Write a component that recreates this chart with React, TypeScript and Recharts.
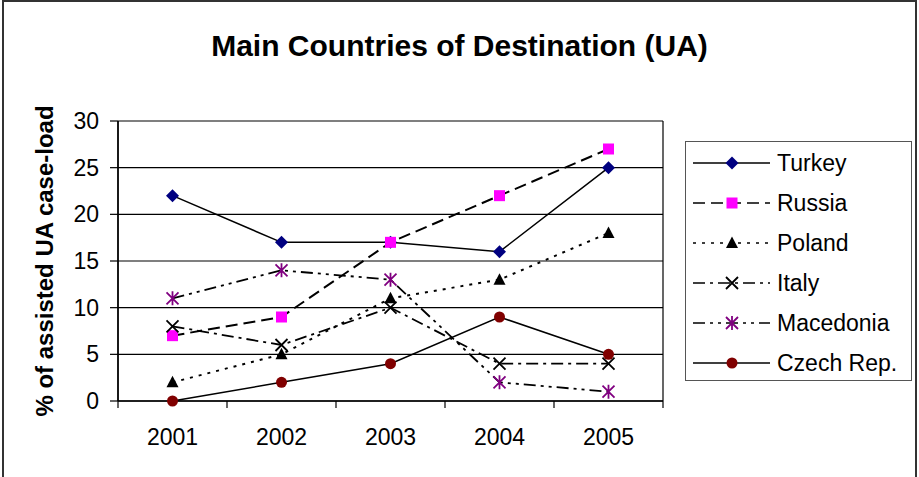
import React from "react";
import {
  LineChart,
  Line,
  XAxis,
  YAxis,
  CartesianGrid,
  Legend,
} from "recharts";

// values
const years = ["2001", "2002", "2003", "2004", "2005"];
const turkey = [22, 17, 17, 16, 25];
const russia = [7, 9, 17, 22, 27];
const poland = [2, 5, 11, 13, 18];
const italy = [8, 6, 10, 4, 4];
const macedonia = [11, 14, 13, 2, 1];
const czech = [0, 2, 4, 9, 5];
const yTicks = [0, 5, 10, 15, 20, 25, 30];

type Series = {
  name: string;
  values: number[];
  dash?: string;
  width: number;
  marker: string;
  color: string;
};

const series: Series[] = [
  { name: "Turkey", values: turkey, width: 1.5, marker: "diamond", color: "#000080" },
  { name: "Russia", values: russia, dash: "12 6", width: 2, marker: "square", color: "#FF00FF" },
  { name: "Poland", values: poland, dash: "3 6", width: 2, marker: "triangle", color: "#000" },
  { name: "Italy", values: italy, dash: "12 5 3 5", width: 1.8, marker: "x", color: "#000" },
  { name: "Macedonia", values: macedonia, dash: "12 5 3 5 3 5", width: 1.8, marker: "star", color: "#800080" },
  { name: "Czech Rep.", values: czech, width: 1.5, marker: "circle", color: "#800000" },
];

const data = years.map((year, i) => {
  const row: Record<string, string | number> = { year };
  series.forEach((s) => {
    row[s.name] = s.values[i];
  });
  return row;
});

const FONT = "'Liberation Sans', Arial, sans-serif";
const HALF_BAND = 54.5;

const Marker = ({ shape, cx, cy, color }: { shape: string; cx: number; cy: number; color: string }) => {
  switch (shape) {
    case "diamond":
      return (
        <polygon
          points={`${cx},${cy - 6.5} ${cx + 6.5},${cy} ${cx},${cy + 6.5} ${cx - 6.5},${cy}`}
          fill={color}
        />
      );
    case "square":
      return <rect x={cx - 5.5} y={cy - 5.5} width={11} height={11} fill={color} />;
    case "triangle":
      return <polygon points={`${cx},${cy - 6.5} ${cx + 6},${cy + 5} ${cx - 6},${cy + 5}`} fill={color} />;
    case "x":
      return (
        <path
          d={`M${cx - 6},${cy - 6}L${cx + 6},${cy + 6}M${cx + 6},${cy - 6}L${cx - 6},${cy + 6}`}
          stroke={color}
          strokeWidth={1.8}
        />
      );
    case "star":
      return (
        <path
          d={`M${cx - 6},${cy - 6}L${cx + 6},${cy + 6}M${cx + 6},${cy - 6}L${cx - 6},${cy + 6}M${cx},${cy - 7}L${cx},${cy + 7}`}
          stroke={color}
          strokeWidth={1.8}
        />
      );
    default:
      return <circle cx={cx} cy={cy} r={5.5} fill={color} />;
  }
};

// Excel-style ticks: marks between categories, labels in the middle
const XTick = (props: any) => {
  const { x, y, payload, index, visibleTicksCount } = props;
  return (
    <g>
      <line x1={x - HALF_BAND} x2={x - HALF_BAND} y1={y} y2={y + 7} stroke="#000" strokeWidth={1.2} />
      {index === visibleTicksCount - 1 && (
        <line x1={x + HALF_BAND} x2={x + HALF_BAND} y1={y} y2={y + 7} stroke="#000" strokeWidth={1.2} />
      )}
      <text x={x} y={y + 44} textAnchor="middle" fontSize={23} fill="#000" fontFamily={FONT}>
        {payload.value}
      </text>
    </g>
  );
};

const YLabel = (props: any) => {
  const vb = props.viewBox || {};
  const cy = (vb.y ?? 121) + (vb.height ?? 280) / 2;
  return (
    <text
      transform={`translate(53, ${cy}) rotate(-90)`}
      textAnchor="middle"
      fontSize={24}
      fontWeight="bold"
      fill="#000"
      fontFamily={FONT}
    >
      % of assisted UA case-load
    </text>
  );
};

const LegendBox = () => (
  <div
    style={{
      width: 227,
      height: 240,
      border: "1.5px solid #555",
      boxSizing: "border-box",
      background: "#fff",
    }}
  >
    <svg width={224} height={237}>
      {series.map((s, i) => {
        const cy = 21 + i * 40;
        return (
          <g key={s.name}>
            <line
              x1={7}
              x2={84}
              y1={cy}
              y2={cy}
              stroke="#000"
              strokeWidth={1.5}
              strokeDasharray={s.dash}
            />
            <Marker shape={s.marker} cx={46} cy={cy} color={s.color} />
            <text x={91} y={cy + 8} fontSize={23} fill="#000" fontFamily={FONT}>
              {s.name}
            </text>
          </g>
        );
      })}
    </svg>
  </div>
);

const App = () => {
  return (
    <div
      style={{
        position: "absolute",
        left: 0,
        top: 0,
        width: 919,
        height: 477,
        overflow: "hidden",
        background: "#fff",
        fontFamily: FONT,
      }}
    >
      <div
        style={{
          position: "absolute",
          left: 2,
          top: 0,
          width: 915,
          height: 500,
          border: "2px solid #333",
          boxSizing: "border-box",
        }}
      />
      <div
        style={{
          position: "absolute",
          left: 0,
          top: 31,
          width: 919,
          textAlign: "center",
          fontSize: 30,
          lineHeight: "30px",
          fontWeight: "bold",
          color: "#000",
        }}
      >
        Main Countries of Destination (UA)
      </div>
      <LineChart
        width={919}
        height={477}
        data={data}
        margin={{ top: 121, right: 256, left: 0, bottom: 0 }}
        style={{ position: "absolute", left: 0, top: 0 }}
      >
        <CartesianGrid
          stroke="#000"
          strokeWidth={1.2}
          verticalCoordinatesGenerator={({ offset }: any) => [offset.left, offset.left + offset.width]}
        />
        <XAxis
          dataKey="year"
          height={76}
          padding={{ left: HALF_BAND, right: HALF_BAND }}
          tickLine={false}
          tickSize={0}
          tickMargin={0}
          axisLine={{ stroke: "#000", strokeWidth: 1.5 }}
          tick={<XTick />}
          interval={0}
        />
        <YAxis
          width={118}
          domain={[0, 30]}
          ticks={yTicks}
          tickSize={8}
          tickMargin={11}
          tickLine={{ stroke: "#000", strokeWidth: 1.2 }}
          axisLine={{ stroke: "#000", strokeWidth: 1.5 }}
          tick={{ fontSize: 23, fill: "#000", fontFamily: FONT }}
          label={<YLabel />}
        />
        <Legend
          layout="horizontal"
          align="center"
          verticalAlign="middle"
          content={() => <LegendBox />}
          wrapperStyle={{ left: 685, top: 141, width: 227, height: 240 }}
        />
        {series.map((s) => (
          <Line
            key={s.name}
            dataKey={s.name}
            type="linear"
            stroke="#000"
            strokeWidth={s.width}
            strokeDasharray={s.dash}
            isAnimationActive={false}
            activeDot={false}
            dot={(p: any) => (
              <Marker key={`${s.name}-${p.index}`} shape={s.marker} cx={p.cx} cy={p.cy} color={s.color} />
            )}
          />
        ))}
      </LineChart>
    </div>
  );
};

export default App;
